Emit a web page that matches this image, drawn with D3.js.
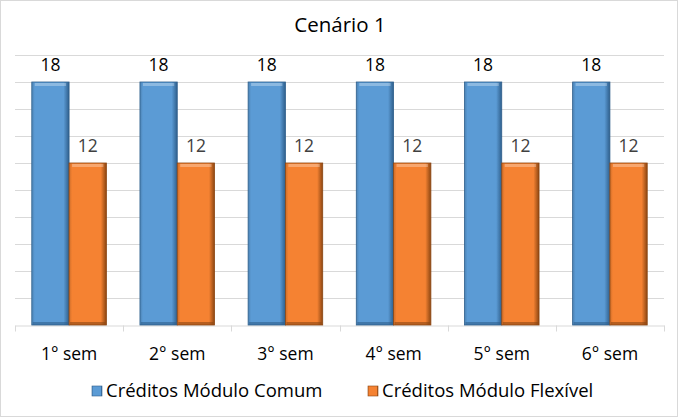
<!DOCTYPE html>
<html lang="pt">
<head>
<meta charset="UTF-8">
<title>Cenário 1</title>
<script src="https://d3js.org/d3.v7.min.js"></script>
<style>
    body { margin: 0; background: #fff; }
    svg { display: block; font-family: "Open Sans", sans-serif; }
</style>
</head>
<body>
<div id="chart"></div>
<script>
const categorias = ["1° sem", "2° sem", "3° sem", "4° sem", "5° sem", "6° sem"];
const series = ["Créditos Módulo Comum", "Créditos Módulo Flexível"];
const comum = [18, 18, 18, 18, 18, 18];
const flexivel = [12, 12, 12, 12, 12, 12];
const cores = ["#5b9bd5", "#f58232"];
const escuras = ["#2f5f8c", "#8c4612"];

const W = 678, H = 417;
const margem = { top: 55, right: 14, bottom: 92, left: 15 };
const fonte = "'Open Sans', sans-serif";

const svg = d3.select("#chart").append("svg")
    .attr("width", W)
    .attr("height", H);

// borda
svg.append("rect")
    .attr("x", 0.5).attr("y", 0.5)
    .attr("width", W - 1).attr("height", H - 1)
    .attr("fill", "#fff")
    .attr("stroke", "#d9d9d9");

// gradientes para o efeito de bisel
const defs = svg.append("defs");
cores.forEach((c, i) => {
    const g = defs.append("linearGradient").attr("id", "grad" + i)
        .attr("x1", "0").attr("x2", "1").attr("y1", "0").attr("y2", "0");
    g.append("stop").attr("offset", "0").attr("stop-color", d3.color(c).darker(0.5));
    g.append("stop").attr("offset", "0.08").attr("stop-color", c);
    g.append("stop").attr("offset", "0.85").attr("stop-color", c);
    g.append("stop").attr("offset", "1").attr("stop-color", escuras[i]);
});

const largura = W - margem.left - margem.right;
const altura = H - margem.top - margem.bottom;

const x = d3.scaleBand().domain(categorias).range([margem.left, margem.left + largura]);
const xs = d3.scaleBand().domain([0, 1]).range([0, x.bandwidth()]).paddingOuter(0.45).paddingInner(0);
const y = d3.scaleLinear().domain([0, 20]).range([margem.top + altura, margem.top]);

// linhas de grade
svg.append("g")
    .selectAll("line")
    .data(d3.range(2, 21, 2))
    .join("line")
    .attr("x1", margem.left).attr("x2", margem.left + largura)
    .attr("y1", d => Math.round(y(d)) + 0.5).attr("y2", d => Math.round(y(d)) + 0.5)
    .attr("stroke", "#d9d9d9");

// eixo x
const eixo = svg.append("g")
    .attr("transform", `translate(0,${Math.round(y(0)) + 0.5})`)
    .call(d3.axisBottom(x).tickSize(0).tickPadding(22));
eixo.select(".domain").attr("stroke", "#d9d9d9");
eixo.selectAll("text").attr("font-size", 17.5).attr("fill", "#000").attr("font-family", fonte);
eixo.selectAll(".sep")
    .data(d3.range(categorias.length + 1))
    .join("line")
    .attr("class", "sep")
    .attr("x1", i => Math.round(margem.left + i * x.step()) + 0.5)
    .attr("x2", i => Math.round(margem.left + i * x.step()) + 0.5)
    .attr("y1", 0).attr("y2", 6)
    .attr("stroke", "#d9d9d9");

const dados = categorias.map((c, i) => ({ cat: c, vals: [comum[i], flexivel[i]] }));

const grupos = svg.append("g").selectAll("g")
    .data(dados)
    .join("g")
    .attr("transform", d => `translate(${x(d.cat)},0)`);

const barras = grupos.selectAll("g")
    .data(d => d.vals.map((v, s) => ({ v, s })))
    .join("g");

barras.append("rect")
    .attr("x", d => xs(d.s))
    .attr("y", d => y(d.v))
    .attr("width", xs.bandwidth())
    .attr("height", d => y(0) - y(d.v))
    .attr("fill", d => `url(#grad${d.s})`)
    .attr("stroke", d => escuras[d.s])
    .attr("stroke-width", 0.8);

// brilho no topo
barras.append("rect")
    .attr("x", d => xs(d.s) + 3)
    .attr("y", d => y(d.v) + 1)
    .attr("width", xs.bandwidth() - 6)
    .attr("height", 3)
    .attr("fill", "#fff")
    .attr("opacity", 0.3);

// sombra na base
barras.append("rect")
    .attr("x", d => xs(d.s) + 1)
    .attr("y", y(0) - 3)
    .attr("width", xs.bandwidth() - 2)
    .attr("height", 3)
    .attr("fill", d => escuras[d.s])
    .attr("opacity", 0.6);

barras.append("text")
    .attr("x", d => xs(d.s) + xs.bandwidth() / 2)
    .attr("y", d => y(d.v) - 11)
    .attr("text-anchor", "middle")
    .attr("font-size", 17.5)
    .attr("fill", d => d.s === 0 ? "#000" : "#404040")
    .text(d => d.v);

// título
svg.append("text")
    .attr("x", 340).attr("y", 32)
    .attr("text-anchor", "middle")
    .attr("font-size", 20.5)
    .attr("fill", "#000")
    .text("Cenário 1");

// legenda
const legX = [92, 368];
const leg = svg.append("g").selectAll("g")
    .data(series)
    .join("g")
    .attr("transform", (d, i) => `translate(${legX[i]},386)`);
leg.append("rect")
    .attr("width", 10).attr("height", 10)
    .attr("fill", (d, i) => `url(#grad${i})`)
    .attr("stroke", (d, i) => escuras[i])
    .attr("stroke-width", 0.6);
leg.append("text")
    .attr("x", 14).attr("y", 11)
    .attr("font-size", 18.5)
    .attr("fill", "#000")
    .text(d => d);
</script>
</body>
</html>
